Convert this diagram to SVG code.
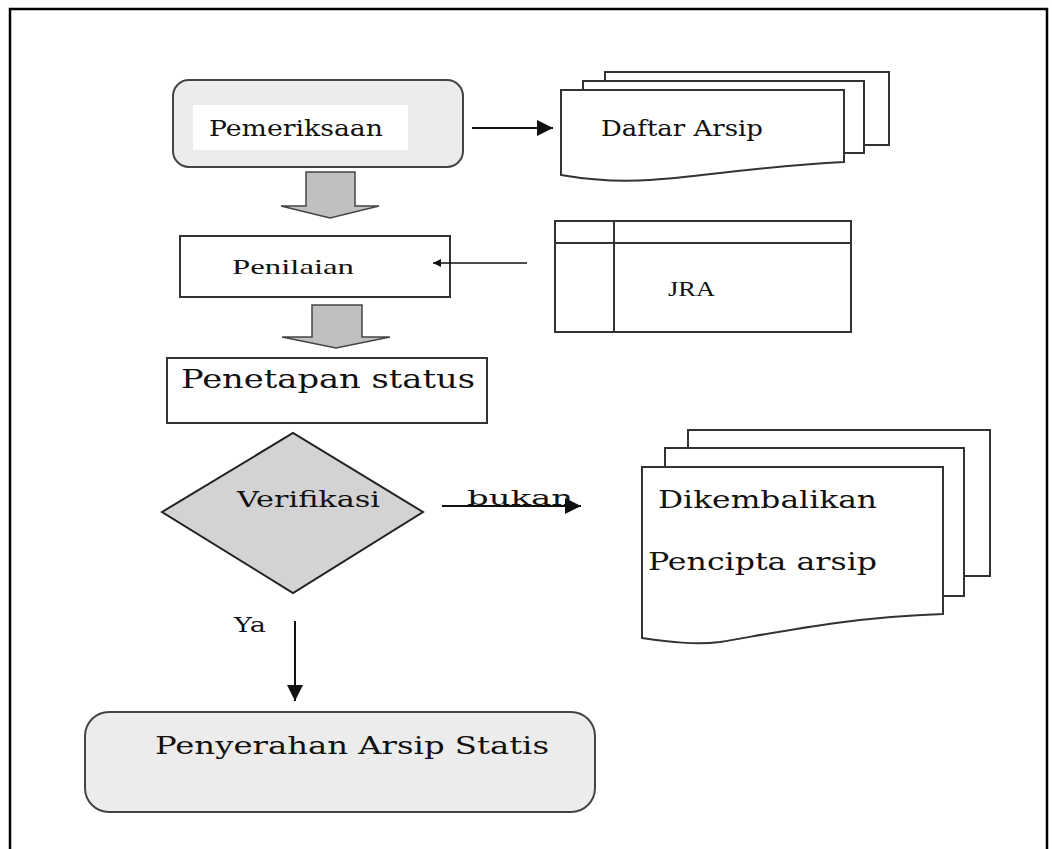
<svg xmlns="http://www.w3.org/2000/svg" width="1052" height="849" viewBox="0 0 1052 849">
<style>
.t{font-family:"DejaVu Serif","Liberation Serif",serif;fill:#111}
.tt{font-family:"Liberation Serif","Times New Roman",serif;fill:#111}
.box{fill:#fff;stroke:#333;stroke-width:2}
.doc{fill:#fff;stroke:#333;stroke-width:2}
.blk{fill:#c0c0c0;stroke:#444;stroke-width:1.5}
.ln{stroke:#111;stroke-width:2;fill:none}
</style>
<defs>
<marker id="ah" viewBox="0 0 10 10" refX="10" refY="5" markerWidth="8" markerHeight="8" markerUnits="userSpaceOnUse" orient="auto"><path d="M0,0 L10,5 L0,10 z" fill="#111"/></marker>
<marker id="ah2" viewBox="0 0 10 10" refX="10" refY="5" markerWidth="16" markerHeight="16" markerUnits="userSpaceOnUse" orient="auto"><path d="M0,0 L10,5 L0,10 z" fill="#111"/></marker>
</defs>
<rect width="1052" height="849" fill="#fff"/>
<path d="M10,849 V9 H1047 V849" fill="none" stroke="#000" stroke-width="2.5"/>

<g id="pemeriksaan">
<rect x="173" y="80" width="290" height="87" rx="16" fill="#ececec" stroke="#444" stroke-width="2"/>
<rect x="193" y="105" width="215" height="45" fill="#fff"/>
<text class="t" x="209" y="136" font-size="22" textLength="174" lengthAdjust="spacingAndGlyphs">Pemeriksaan</text>
</g>

<g id="daftar-arsip">
<rect class="doc" x="605" y="72" width="284" height="73"/>
<rect class="doc" x="583" y="81" width="281" height="72"/>
<path class="doc" d="M561,90 H844 V162 C760,166 700,177 650,180 C620,182 590,180 561,175 Z"/>
<text class="t" x="601" y="136" font-size="22" textLength="162" lengthAdjust="spacingAndGlyphs">Daftar Arsip</text>
</g>

<g id="penilaian">
<rect class="box" x="180" y="236" width="270" height="61"/>
<text class="tt" x="232" y="274" font-size="22" textLength="122" lengthAdjust="spacingAndGlyphs">Penilaian</text>
</g>

<g id="jra">
<rect class="box" x="555" y="221" width="296" height="111"/>
<line x1="555" y1="243" x2="851" y2="243" stroke="#333" stroke-width="2"/>
<line x1="614" y1="221" x2="614" y2="332" stroke="#333" stroke-width="2"/>
<text class="tt" x="668" y="296" font-size="22" textLength="47" lengthAdjust="spacingAndGlyphs">JRA</text>
</g>

<g id="penetapan-status">
<rect class="box" x="167" y="358" width="320" height="65"/>
<text class="t" x="181" y="388" font-size="26" textLength="294" lengthAdjust="spacingAndGlyphs">Penetapan status</text>
</g>

<g id="verifikasi">
<polygon points="162,512 293,433 423,512 293,593" fill="#d3d3d3" stroke="#222" stroke-width="2"/>
<text class="t" x="237" y="507" font-size="23" textLength="143" lengthAdjust="spacingAndGlyphs">Verifikasi</text>
</g>

<g id="dikembalikan">
<rect class="doc" x="688" y="430" width="302" height="146"/>
<rect class="doc" x="665" y="448" width="299" height="148"/>
<path class="doc" d="M642,467 H943 V614 C850,617 780,632 720,642 C695,645 670,642 642,638 Z"/>
<text class="t" x="658" y="508" font-size="25" textLength="219" lengthAdjust="spacingAndGlyphs">Dikembalikan</text>
<text class="t" x="648" y="570" font-size="25" textLength="229" lengthAdjust="spacingAndGlyphs">Pencipta arsip</text>
</g>

<g id="penyerahan">
<rect x="85" y="712" width="510" height="100" rx="24" fill="#ececec" stroke="#444" stroke-width="2"/>
<text class="t" x="155" y="754" font-size="25" textLength="394" lengthAdjust="spacingAndGlyphs">Penyerahan Arsip Statis</text>
</g>

<g id="connectors">
<line class="ln" x1="472" y1="128" x2="553" y2="128" marker-end="url(#ah2)"/>
<line x1="527" y1="263" x2="433" y2="263" stroke="#111" stroke-width="1.5" marker-end="url(#ah)"/>
<polygon class="blk" points="306,172 355,172 355,206 379,206 330,218 281,206 306,206"/>
<polygon class="blk" points="312,305 362,305 362,337 390,337 336,348 282,337 312,337"/>
<line class="ln" x1="442" y1="506" x2="581" y2="506" marker-end="url(#ah2)"/>
<text class="t" x="467" y="505" font-size="21" textLength="106" lengthAdjust="spacingAndGlyphs">bukan</text>
<line class="ln" x1="295" y1="621" x2="295" y2="701" marker-end="url(#ah2)"/>
<text class="t" x="234" y="632" font-size="20" textLength="32" lengthAdjust="spacingAndGlyphs">Ya</text>
</g>
</svg>
